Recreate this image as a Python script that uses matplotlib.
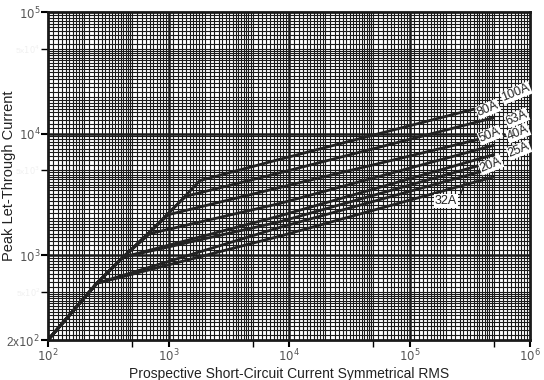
import numpy as np
import matplotlib.pyplot as plt

plt.rcParams['font.family'] = ['Liberation Sans', 'DejaVu Sans']

# common rising part (prospective current, peak let-through)
common_x = [100, 254, 420]
common_y = [200, 585, 960]

# each rating: points after it leaves the common line
ratings = ['100A', '80A', '63A', '50A', '40A', '25A', '20A', '32A']
branch_x = {
    '100A': [700, 1200, 1820, 8400, 5e5],
    '80A': [700, 1200, 1400, 8400, 5e5],
    '63A': [700, 1000, 8400, 5e5],
    '50A': [700, 8400, 5e5],
    '40A': [8400, 5e5],
    '25A': [8400, 5e5],
    '20A': [8400, 5e5],
    '32A': [8400, 5e5],
}
branch_y = {
    '100A': [1550, 2650, 4100, 6140, 17500],
    '80A': [1550, 2650, 3050, 4750, 13500],
    '63A': [1550, 2150, 3600, 9600],
    '50A': [1500, 2660, 8000],
    '40A': [2100, 6700],
    '25A': [1880, 5900],
    '20A': [1690, 5200],
    '32A': [1430, 4400],
}
start_idx = {'100A': 3, '80A': 3, '63A': 3, '50A': 3, '40A': 3, '25A': 3, '20A': 2, '32A': 2}

# label centres in pixel coordinates of the picture (from the top-left)
label_pos = {
    '100A': (516, 93), '80A': (488, 109), '63A': (517, 118), '50A': (490, 135),
    '40A': (518, 133), '25A': (519, 150), '20A': (491, 165),
}

fig = plt.figure(figsize=(5.44, 3.80), dpi=100)
ax = fig.add_axes([48 / 544, 40 / 380, 482 / 544, 328 / 380])
ax.set_xscale('log')
ax.set_yscale('log')
ax.set_xlim(1e2, 1e6)
ax.set_ylim(2e2, 1e5)

# graph-paper grid
sub = np.concatenate([np.arange(1.1, 2.0, 0.1), np.arange(2.0, 5.0, 0.2), np.arange(5.0, 10.0, 0.5)])
for dec in [1e2, 1e3, 1e4, 1e5]:
    for s in sub:
        ax.axvline(dec * s, color='#1a1a1a', lw=0.8, zorder=1)
for dec in [1e2, 1e3, 1e4]:
    for s in sub:
        if dec * s > 2e2:
            ax.axhline(dec * s, color='#1a1a1a', lw=0.8, zorder=1)
for d in [1e3, 1e4, 1e5]:
    ax.axvline(d, color='#1a1a1a', lw=1.8, zorder=1)
for d in [1e3, 1e4]:
    ax.axhline(d, color='#1a1a1a', lw=1.8, zorder=1)

for r in ratings:
    n = start_idx[r]
    xs = common_x[:n] + branch_x[r]
    ys = common_y[:n] + branch_y[r]
    ax.plot(xs, ys, color='#222222', lw=2.0, solid_capstyle='round', zorder=3)

for lab, (px, py) in label_pos.items():
    fig.text(px / 544, 1 - py / 380, lab, rotation=22, fontsize=9, color='#222222',
             ha='center', va='center',
             bbox=dict(boxstyle='square,pad=0.05', fc='white', ec='none'), zorder=5)

# 32A label with leader
fig.text(446 / 544, 1 - 201 / 380, '32A', fontsize=9, color='#222222', ha='center', va='center',
         bbox=dict(boxstyle='square,pad=0.05', fc='white', ec='none'))
ax.annotate('', xy=(466, 380 - 178), xycoords='figure pixels',
            xytext=(459, 380 - 200), textcoords='figure pixels',
            arrowprops=dict(arrowstyle='-', color='#222222', lw=0.8))

for sp in ax.spines.values():
    sp.set_linewidth(2.0)
    sp.set_color('#1a1a1a')
    sp.set_zorder(4)

ax.set_xticks([1e2, 1e3, 1e4, 1e5, 1e6])
ax.set_xticklabels([r'$10^2$', r'$10^3$', r'$10^4$', r'$10^5$', r'$10^6$'])
ax.set_xticks([5e2, 5e3, 5e4, 5e5], minor=True)
ax.set_xticklabels([], minor=True)
ax.set_yticks([2e2, 1e3, 1e4, 1e5])
ax.set_yticklabels([r'2x$10^2$', r'$10^3$', r'$10^4$', r'$10^5$'])
ax.set_yticks([5e2, 5e3, 5e4], minor=True)
ax.set_yticklabels([r'5x$10^2$', r'5x$10^3$', r'5x$10^4$'], minor=True, color='#f0f0f0')
ax.tick_params(which='major', length=5, width=1.5, labelsize=8.5, labelcolor='#555555', pad=0.5)
ax.tick_params(which='minor', length=5, width=1.0, labelsize=6, pad=0.5)

ax.set_xlabel('Prospective Short-Circuit Current Symmetrical RMS', fontsize=10, color='#222222')
ax.set_ylabel('Peak Let-Through Current', fontsize=10.5, color='#222222')
ax.xaxis.set_label_coords(0.5, -0.083)
ax.yaxis.set_label_coords(-0.066, 0.5)

fig.savefig('out.png', dpi=100)
